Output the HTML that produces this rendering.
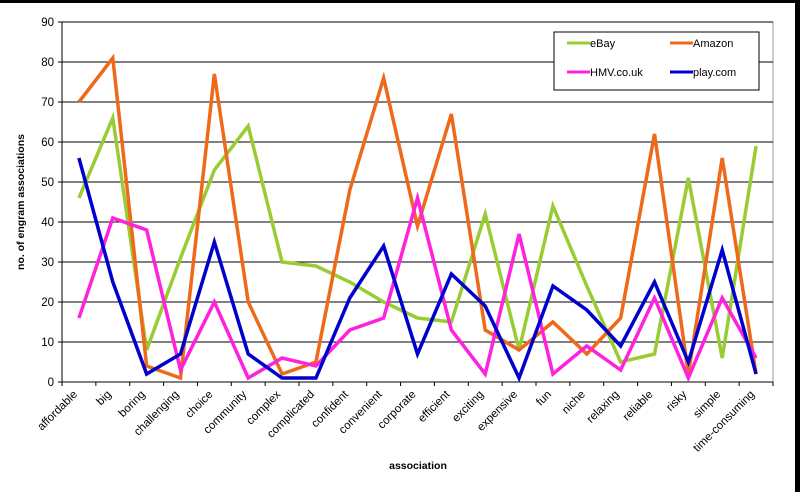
<!DOCTYPE html><html><head><style>body{margin:0;background:#fff}svg{display:block}text{font-family:"Liberation Sans",sans-serif}</style></head><body>
<svg width="800" height="492" xmlns="http://www.w3.org/2000/svg">
<rect x="0" y="0" width="800" height="492" fill="#fff"/>
<rect x="0" y="0" width="800" height="3" fill="#000"/>
<rect x="795" y="0" width="5" height="492" fill="#000"/>
<g id="g"></g>
</svg>
<script>
const cats=["affordable","big","boring","challenging","choice","community","complex","complicated","confident","convenient","corporate","efficient","exciting","expensive","fun","niche","relaxing","reliable","risky","simple","time-consuming"];
const D=[[46,70,16,56],[66,81,41,25],[8,4,38,2],[31,1,3,7],[53,77,20,35],[64,20,1,7],[30,2,6,1],[29,5,4,1],[25,48,13,21],[20,76,16,34],[16,39,46,7],[15,67,13,27],[42,13,2,19],[8,8,37,1],[44,15,2,24],[24,7,9,18],[5,16,3,9],[7,62,21,25],[51,2,1,5],[6,56,21,33],[59,2,6,2]];
const cols=["#99cc33","#ee6a1a","#ff22dd","#0000cc"];
const L=62,R=773,T=22,B=382,n=cats.length,w=(R-L)/n;
const X=i=>L+w*(i+0.5),Y=v=>B-v*(B-T)/90;
let s='';
s+=`<rect x="${L}" y="${T}" width="${R-L}" height="${B-T}" fill="none" stroke="#999" stroke-width="1"/>`;
for(let v=0;v<=90;v+=10){const y=Y(v);s+=`<line x1="${L}" y1="${y}" x2="${R}" y2="${y}" stroke="#000" stroke-width="1"/><line x1="${L-4}" y1="${y}" x2="${L}" y2="${y}" stroke="#000"/><text x="${L-8}" y="${y+4}" font-size="11.5" text-anchor="end">${v}</text>`;}
s+=`<line x1="${L}" y1="${T}" x2="${L}" y2="${B}" stroke="#000"/>`;
for(let i=0;i<=n;i++){const x=L+w*i;s+=`<line x1="${x}" y1="${B}" x2="${x}" y2="${B+4}" stroke="#000"/>`;}
cats.forEach((c,i)=>{const x=X(i)-1,y=B+13;s+=`<text x="${x}" y="${y}" font-size="11.5" text-anchor="end" transform="rotate(-45 ${x} ${y})">${c}</text>`;});
for(let k=0;k<4;k++){s+=`<polyline fill="none" stroke="${cols[k]}" stroke-width="3.5" stroke-linejoin="miter" points="${D.map((d,i)=>X(i)+','+Y(d[k])).join(' ')}"/>`;}
s+=`<rect x="554" y="32" width="205" height="58" fill="#fff" stroke="#000"/>`;
const leg=[["eBay",567,47],["Amazon",670,47],["HMV.co.uk",567,76],["play.com",670,76]];
leg.forEach((l,k)=>{s+=`<line x1="${l[1]}" y1="${l[2]-4}" x2="${l[1]+23}" y2="${l[2]-4}" stroke="${cols[k]}" stroke-width="3"/><text x="${l[1]+23}" y="${l[2]}" font-size="11">${l[0]}</text>`;});
s+=`<text x="24" y="202" font-size="10.5" font-weight="bold" text-anchor="middle" transform="rotate(-90 24 202)">no. of engram associations</text>`;
s+=`<text x="418" y="469" font-size="10.5" font-weight="bold" text-anchor="middle">association</text>`;
document.getElementById('g').innerHTML=s;
</script>
</body></html>
